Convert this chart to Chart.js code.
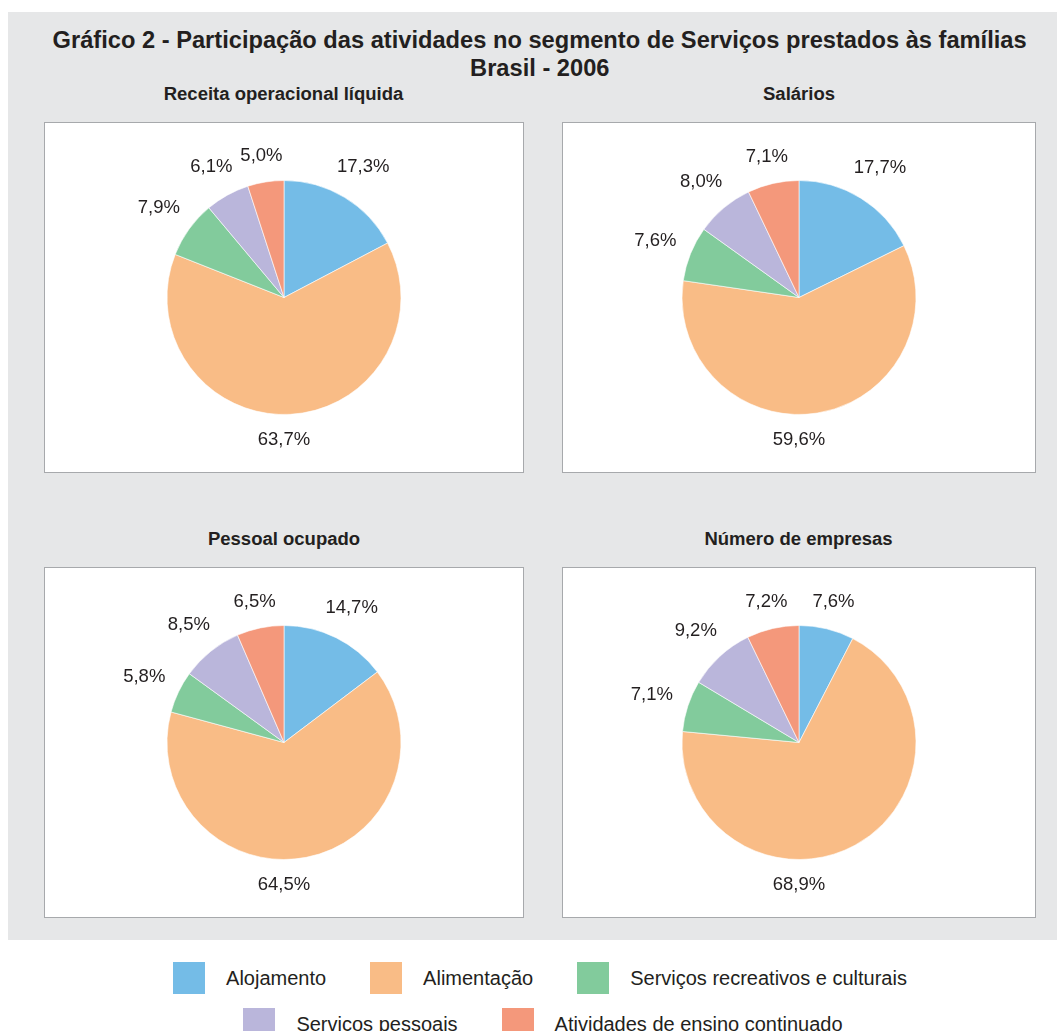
<!DOCTYPE html>
<html>
<head>
<meta charset="utf-8">
<script src="https://cdn.jsdelivr.net/npm/chart.js@4"></script>
<style>
  html, body { margin:0; padding:0; background:#ffffff; }
  body { width:1057px; height:1031px; position:relative; overflow:hidden; font-family:"Liberation Sans", Arial, sans-serif; color:#231f20; }
  #panel { position:absolute; left:8px; top:12px; width:1049px; height:928px; background:#e6e7e8; }
  .hd { position:absolute; text-align:center; font-family:"Liberation Sans", Arial, sans-serif; font-weight:bold; color:#231f20; white-space:nowrap; }
  .hd span { display:inline-block; transform-origin:50% 50%; }
  .title { font-size:23px; line-height:23px; }
  .sub { font-size:18px; line-height:18px; }
  .box { position:absolute; box-sizing:border-box; border:1px solid #a7a9ac; background:#ffffff; }
  .box canvas { display:block; }
  .legrow { position:absolute; left:0; width:1080px; display:flex; justify-content:center; align-items:center; }
  .item { display:flex; align-items:center; margin:0 22px; }
  .sw { width:32px; height:32px; margin-right:21px; }
  .lt { font-size:20px; font-family:"Liberation Sans", Arial, sans-serif; color:#231f20; white-space:nowrap; }
</style>
</head>
<body>
<div id="panel"></div>
<div class="hd title" style="left:0; width:1080px; top:28.5px;"><span id="mainTitle">Gráfico 2 - Participação das atividades no segmento de Serviços prestados às famílias</span></div>
<div class="hd title" style="left:0; width:1080px; top:56.5px;"><span>Brasil - 2006</span></div>

<div class="hd sub" style="left:44px; width:480px; top:85px;"><span>Receita operacional líquida</span></div>
<div class="hd sub" style="left:562px; width:474px; top:85px;"><span>Salários</span></div>
<div class="hd sub" style="left:44px; width:480px; top:530px;"><span>Pessoal ocupado</span></div>
<div class="hd sub" style="left:562px; width:474px; top:530px;"><span>Número de empresas</span></div>

<div class="box" style="left:44px; top:122px; width:480px; height:351px;"><canvas id="c1" width="478" height="349"></canvas></div>
<div class="box" style="left:562px; top:122px; width:474px; height:351px;"><canvas id="c2" width="472" height="349"></canvas></div>
<div class="box" style="left:44px; top:567px; width:480px; height:351px;"><canvas id="c3" width="478" height="349"></canvas></div>
<div class="box" style="left:562px; top:567px; width:474px; height:351px;"><canvas id="c4" width="472" height="349"></canvas></div>

<div class="legrow" id="leg1" style="top:962px;"></div>
<div class="legrow" id="leg2" style="top:1008px; left:3px;"></div>

<script>
// ---- Data ----
const categories = ["Alojamento", "Alimentação", "Serviços recreativos e culturais", "Serviços pessoais", "Atividades de ensino continuado"];
const receitaOperacional = [17.3, 63.7, 7.9, 6.1, 5.0];
const salarios = [17.7, 59.6, 7.6, 8.0, 7.1];
const pessoalOcupado = [14.7, 64.5, 5.8, 8.5, 6.5];
const numeroEmpresas = [7.6, 68.9, 7.1, 9.2, 7.2];
const colors = ["#74bce7", "#f9bc86", "#82cb9c", "#bab6db", "#f4987b"];

// ---- condensed headings: narrow Liberation Sans Bold to the reference width ----
(function () {
  const t = document.getElementById('mainTitle');
  const w = t.getBoundingClientRect().width;
  const k = 974 / w;
  document.querySelectorAll('.hd span').forEach(s => { s.style.transform = 'scaleX(' + k + ')'; });
})();

// ---- Label plugin ----
const outsideLabels = {
  id: 'outsideLabels',
  afterDatasetsDraw(chart) {
    const ctx = chart.ctx;
    const meta = chart.getDatasetMeta(0);
    const data = chart.data.datasets[0].data;
    const total = data.reduce((a, b) => a + b, 0);
    ctx.save();
    ctx.font = '18.5px "Liberation Sans", Arial, sans-serif';
    ctx.fillStyle = '#231f20';
    ctx.textAlign = 'center';
    ctx.textBaseline = 'middle';
    meta.data.forEach((arc, i) => {
      const p = arc.getProps(['x','y','startAngle','endAngle','outerRadius'], true);
      let a = (p.startAngle + p.endAngle) / 2;
      if (data[i] / total > 0.5) {
        // dominant slice: label straight below the pie, kept inside the slice
        a = Math.min(Math.max(Math.PI / 2, p.startAngle), p.endAngle);
      }
      const txt = data[i].toFixed(1).replace('.', ',') + '%';
      const hw = ctx.measureText(txt).width / 2;
      const hh = 9;
      const d = p.outerRadius + 15 + Math.abs(Math.cos(a)) * hw + Math.abs(Math.sin(a)) * hh;
      ctx.fillText(txt, p.x + Math.cos(a) * d, p.y + Math.sin(a) * d + 1);
    });
    ctx.restore();
  }
};

function makePie(id, values) {
  new Chart(document.getElementById(id), {
    type: 'pie',
    data: {
      labels: categories,
      datasets: [{
        data: values,
        backgroundColor: colors,
        borderColor: '#ffffff',
        borderWidth: 0.6,
        radius: 117
      }]
    },
    options: {
      responsive: false,
      animation: false,
      layout: { padding: 0 },
      plugins: { legend: { display: false }, tooltip: { enabled: false }, title: { display: false } }
    },
    plugins: [outsideLabels]
  });
}
makePie('c1', receitaOperacional);
makePie('c2', salarios);
makePie('c3', pessoalOcupado);
makePie('c4', numeroEmpresas);

// ---- Legend ----
function addItem(row, i) {
  const it = document.createElement('div'); it.className = 'item';
  const sw = document.createElement('div'); sw.className = 'sw'; sw.style.background = colors[i];
  const t = document.createElement('span'); t.className = 'lt'; t.textContent = categories[i];
  it.appendChild(sw); it.appendChild(t); row.appendChild(it);
}
const l1 = document.getElementById('leg1'), l2 = document.getElementById('leg2');
[0,1,2].forEach(i => addItem(l1, i));
[3,4].forEach(i => addItem(l2, i));
</script>
</body>
</html>
